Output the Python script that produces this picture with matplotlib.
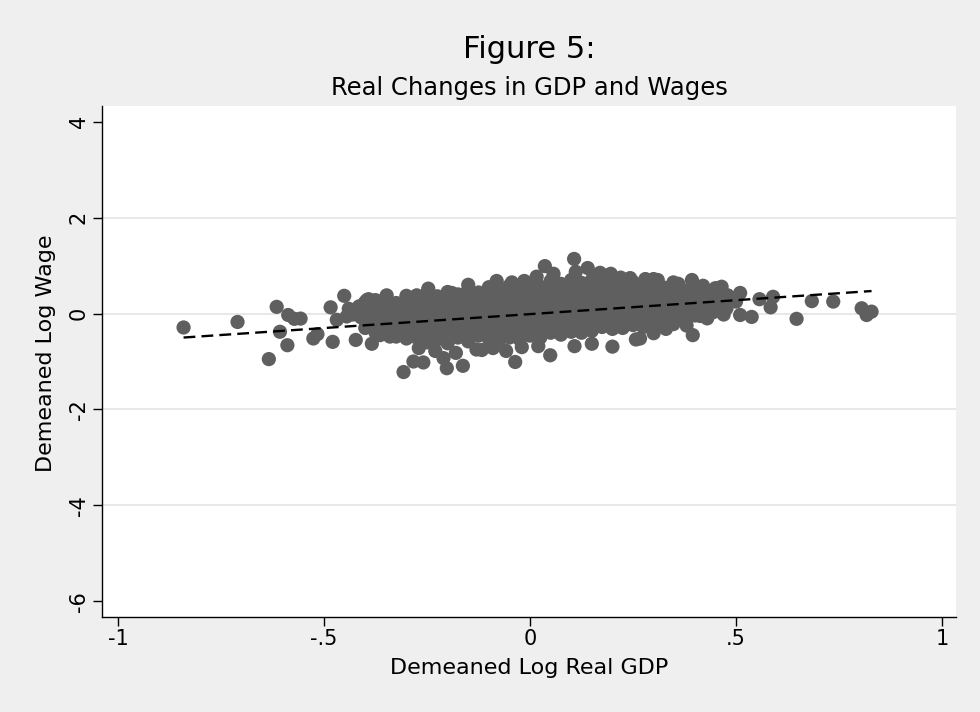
import numpy as np
import matplotlib
matplotlib.use('Agg')
import matplotlib.pyplot as plt

title = 'Figure 5:'
subtitle = 'Real Changes in GDP and Wages'
x_label = 'Demeaned Log Real GDP'
y_label = 'Demeaned Log Wage'

x_ticks = [-1, -0.5, 0, 0.5, 1]
x_tick_labels = ['-1', '-.5', '0', '.5', '1']
y_ticks = [-6, -4, -2, 0, 2, 4]
y_grid = [-4, -2, 0, 2]

# scattered observations around the edge of the cloud
outer_gdp = [-0.841, -0.710, -0.634, -0.615, -0.607, -0.589, -0.587, -0.572, -0.557,
             -0.526, -0.516, -0.484, -0.479, -0.469, -0.451, -0.445, -0.423, -0.421,
             -0.396, -0.392, -0.384, -0.364, -0.348, -0.340, -0.332, -0.307, -0.300,
             -0.283, -0.259, -0.247, -0.210, -0.202, -0.190, -0.163, -0.150, -0.117,
             -0.081, -0.058, -0.044, -0.036, -0.014, 0.016, 0.036, 0.049, 0.057,
             0.107, 0.108, 0.111, 0.140, 0.150, 0.170, 0.196, 0.200, 0.243, 0.257,
             0.267, 0.300, 0.300, 0.348, 0.348, 0.372, 0.393, 0.395, 0.413, 0.445,
             0.450, 0.465, 0.477, 0.510, 0.510, 0.538, 0.557, 0.584, 0.590, 0.647,
             0.684, 0.736, 0.805, 0.817, 0.829,
             -0.440, -0.430, -0.415, -0.410, -0.390, -0.380, -0.370,
             -0.270, -0.230, -0.180, -0.130, -0.090, -0.020, 0.020,
             0.430, 0.460, 0.480, 0.500, 0.470, 0.420, 0.360, 0.380, 0.330, 0.310,
             0.280, 0.220]
outer_wage = [-0.29, -0.175, -0.95, 0.14, -0.38, -0.66, -0.03, -0.11, -0.105,
              -0.52, -0.43, 0.13, -0.59, -0.13, 0.37, -0.06, -0.55, 0.04,
              0.28, 0.30, -0.63, -0.45, 0.38, -0.48, 0.18, -1.22, 0.37,
              -1.00, -1.02, 0.52, -0.93, -1.14, 0.43, -1.09, 0.60, -0.76,
              0.68, -0.78, 0.65, -1.01, 0.68, 0.77, 0.99, -0.87, 0.83,
              1.14, -0.68, 0.87, 0.95, -0.63, 0.85, 0.83, -0.69, 0.74, -0.54,
              -0.52, 0.72, -0.41, 0.65, -0.22, -0.13, 0.70, -0.45, -0.05, 0.03,
              0.53, 0.56, 0.11, 0.43, -0.03, -0.07, 0.30, 0.13, 0.35, -0.11,
              0.26, 0.25, 0.11, -0.03, 0.04,
              0.10, -0.02, 0.15, -0.08, 0.10, -0.15, 0.20,
              -0.72, -0.78, -0.82, -0.75, -0.72, -0.70, -0.68,
              -0.10, 0.20, 0.38, 0.25, -0.02, 0.58, 0.62, -0.25, -0.32, 0.70,
              0.72, 0.75]

# the solid middle of the cloud, one column of observations per GDP value
band_gdp = [-0.400, -0.375, -0.350, -0.325, -0.300, -0.275, -0.250, -0.225, -0.200,
            -0.175, -0.150, -0.125, -0.100, -0.075, -0.050, -0.025, 0.000, 0.025,
            0.050, 0.075, 0.100, 0.125, 0.150, 0.175, 0.200, 0.225, 0.250, 0.275,
            0.300, 0.325, 0.350, 0.375, 0.400, 0.425, 0.450]
band_wage = [
    [0.24, 0.06, -0.12, -0.30],
    [0.28, 0.12, -0.05, -0.22, -0.40],
    [0.30, 0.14, -0.04, -0.22, -0.40],
    [0.22, 0.04, -0.14, -0.32, -0.48],
    [0.32, 0.14, -0.04, -0.22, -0.40, -0.52],
    [0.38, 0.22, 0.04, -0.14, -0.32, -0.50],
    [0.42, 0.26, 0.08, -0.10, -0.28, -0.46, -0.60],
    [0.36, 0.18, 0.00, -0.18, -0.36, -0.54],
    [0.45, 0.28, 0.10, -0.08, -0.26, -0.44, -0.62],
    [0.40, 0.22, 0.04, -0.14, -0.32, -0.50],
    [0.50, 0.32, 0.14, -0.04, -0.22, -0.40, -0.58],
    [0.44, 0.26, 0.08, -0.10, -0.28, -0.46],
    [0.55, 0.37, 0.19, 0.01, -0.17, -0.35, -0.53],
    [0.48, 0.30, 0.12, -0.06, -0.24, -0.42, -0.56],
    [0.58, 0.40, 0.22, 0.04, -0.14, -0.32, -0.50],
    [0.52, 0.34, 0.16, -0.02, -0.20, -0.38, -0.54],
    [0.62, 0.44, 0.26, 0.08, -0.10, -0.28, -0.46],
    [0.56, 0.38, 0.20, 0.02, -0.16, -0.34, -0.50],
    [0.68, 0.50, 0.32, 0.14, -0.04, -0.22, -0.40],
    [0.62, 0.44, 0.26, 0.08, -0.10, -0.28, -0.44],
    [0.70, 0.52, 0.34, 0.16, -0.02, -0.20, -0.38],
    [0.64, 0.46, 0.28, 0.10, -0.08, -0.26, -0.40],
    [0.70, 0.52, 0.34, 0.16, -0.02, -0.20, -0.36],
    [0.62, 0.44, 0.26, 0.08, -0.10, -0.28],
    [0.68, 0.50, 0.32, 0.14, -0.04, -0.22, -0.32],
    [0.60, 0.42, 0.24, 0.06, -0.12, -0.30],
    [0.66, 0.48, 0.30, 0.12, -0.06, -0.24],
    [0.58, 0.40, 0.22, 0.04, -0.14, -0.28],
    [0.62, 0.44, 0.26, 0.08, -0.10, -0.25],
    [0.54, 0.36, 0.18, 0.00, -0.18],
    [0.56, 0.38, 0.20, 0.02, -0.16],
    [0.48, 0.30, 0.12, -0.06],
    [0.50, 0.32, 0.14, -0.04],
    [0.40, 0.22, 0.04],
    [0.42, 0.24, 0.06],
]

# fitted line end points
fit_gdp = [-0.841, 0.829]
fit_wage = [-0.50, 0.47]

col_sizes = [len(c) for c in band_wage]
gdp = np.concatenate([outer_gdp, np.repeat(band_gdp, col_sizes)])
wage = np.concatenate([outer_wage, np.concatenate(band_wage)])

fig = plt.figure(figsize=(9.8, 7.12), dpi=100, facecolor='#efefef')
ax = fig.add_axes([102 / 980, 1 - 617 / 712, 854 / 980, 511 / 712])
ax.set_facecolor('white')
ax.set_xlim(-1.039, 1.034)
ax.set_ylim(-6.33, 4.33)

for y in y_grid:
    ax.axhline(y, color='#e6e6e6', lw=1.3, zorder=1)

ax.scatter(gdp, wage, s=105, color='#5f5f5f', edgecolors='none', zorder=2)
ax.plot(fit_gdp, fit_wage, color='black', lw=1.7, dashes=(5, 2.6), zorder=3)

for side in ['top', 'right']:
    ax.spines[side].set_visible(False)
for side in ['left', 'bottom']:
    ax.spines[side].set_linewidth(1.0)
    ax.spines[side].set_color('black')

ax.set_xticks(x_ticks, x_tick_labels)
ax.set_yticks(y_ticks, [str(t) for t in y_ticks])
ax.tick_params(axis='both', direction='out', length=6.5, width=1.0, labelsize=15)
ax.tick_params(axis='x', pad=2)
ax.tick_params(axis='y', labelrotation=90, pad=3)
for lbl in ax.get_yticklabels():
    lbl.set_va('center')

ax.set_xlabel(x_label, fontsize=16, va='center')
ax.xaxis.set_label_coords(0.5, (617 - 668) / 511)
ax.set_ylabel(y_label, fontsize=16, va='center')
ax.yaxis.set_label_coords((46 - 102) / 854, (617 - 353) / 511)

fig.text(529 / 980, 1 - 58 / 712, title, ha='center', va='baseline', fontsize=22)
fig.text(529 / 980, 1 - 95 / 712, subtitle, ha='center', va='baseline', fontsize=17.5)

fig.savefig('out.png', dpi=100, facecolor=fig.get_facecolor())
